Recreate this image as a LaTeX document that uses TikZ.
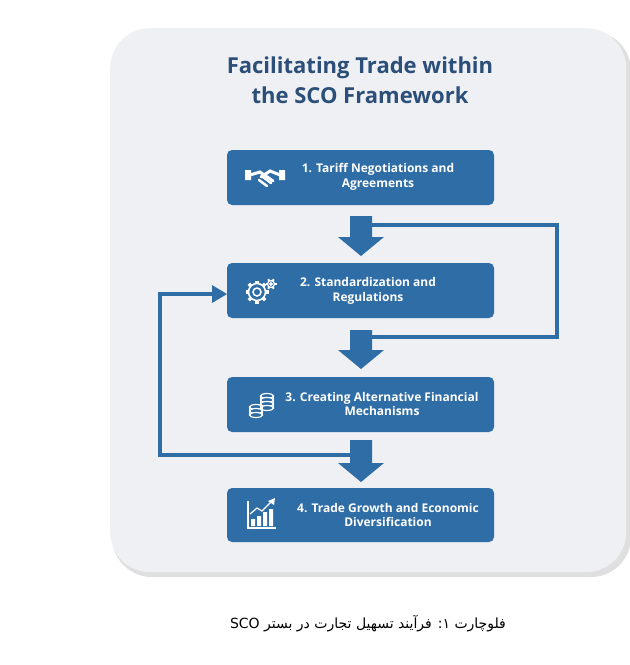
\documentclass[tikz,border=0pt]{standalone}
\usepackage{fontspec}
\setmainfont{Open Sans}
\newfontfamily\arfont[Script=Arabic]{DejaVu Sans}
\usetikzlibrary{calc}
\definecolor{boxc}{HTML}{2F6DA6}
\definecolor{titc}{HTML}{2B4F78}
\definecolor{cardc}{HTML}{EEF0F3}
\begin{document}
\TeXXeTstate=1
\begin{tikzpicture}[x=1pt,y=-1pt,
  stepbox/.style={fill=boxc,rounded corners=5pt},
  steptxt/.style={text=white,font=\bfseries\fontsize{12}{14.5}\selectfont,align=center},
  loopl/.style={draw=boxc,line width=4.5pt},
  ico/.style={draw=white,line width=1.2pt,fill=none}]
\useasboundingbox (0,0) rectangle (630,665);
\fill[white] (0,0) rectangle (630,665);
\fill[gray!25,rounded corners=40pt] (112,31) rectangle (631,577);
\node[draw=none,fill=cardc,rounded corners=40pt,minimum width=516pt,minimum height=544pt,anchor=north west] (card) at (110,28) {};
\node[text=titc,font=\bfseries\fontsize{22}{30}\selectfont,align=center] (title) at (360,80) {Facilitating Trade within\\the SCO Framework};
% boxes
\path[stepbox] (227,150) rectangle (494,205);
\path[stepbox] (227,263) rectangle (494,318);
\path[stepbox] (227,377) rectangle (494,432);
\path[stepbox] (227,488) rectangle (494,542);
\node[steptxt] (t1) at (378,177) {1. Tariff Negotiations and\\Agreements};
\node[steptxt] (t2) at (368,291) {2. Standardization and\\Regulations};
\node[steptxt] (t3) at (382,404) {3. Creating Alternative Financial\\Mechanisms};
\node[steptxt] (t4) at (388,515) {4. Trade Growth and Economic\\Diversification};
% block arrows
\foreach \a/\b in {216/256,330/369,440/482}{
  \fill[boxc] (350,\a) -- (372,\a) -- (372,\b-19) -- (384,\b-19) -- (361,\b) -- (338,\b-19) -- (350,\b-19) -- cycle;}
% loops
\coordinate (r1) at (372,225); \coordinate (r2) at (557,225);
\coordinate (r3) at (557,337); \coordinate (r4) at (372,337);
\draw[loopl] (r1) -- (r2) -- (r3) -- (r4);
\coordinate (l1) at (350,455); \coordinate (l2) at (160,455);
\coordinate (l3) at (160,294); \coordinate (l4) at (214,294);
\draw[loopl] (l1) -- (l2) -- (l3) -- (l4);
\fill[boxc] (227,294) -- (212,285) -- (212,303) -- cycle;
% icons
\begin{scope}[shift={(265,178)},ico]
 \draw[line width=3pt,line cap=round] (-15,-3) -- (-5,-6) -- (8,3) (15,-3) -- (5,-7) -- (-4,-1);
 \draw[line width=2.5pt,line cap=round] (-6,2) -- (2,8) (-2,-1) -- (6,5);
 \fill[white] (-20,-8) rectangle (-14,2) (14,-8) rectangle (20,2);
\end{scope}
\begin{scope}[shift={(257,292)},ico]
 \foreach \k in {0,45,...,315} \draw[line width=3.5pt] (\k:8) -- (\k:11.5);
 \draw[line width=1.5pt] (0,0) circle (8.5); \draw[line width=1.5pt] (0,0) circle (4);
 \begin{scope}[shift={(14,-8)}]
 \foreach \k in {0,60,...,300} \draw[line width=2pt] (\k:3.5) -- (\k:5.5);
 \draw (0,0) circle (3.5) (0,0) circle (1.2);
 \end{scope}
\end{scope}
\begin{scope}[shift={(262,410)},ico]
 \foreach \j in {0,1,2,3} {\draw[fill=boxc] (5,-14+4*\j) ellipse (6.5 and 2.5);}
 \foreach \j in {0,1,2} {\draw[fill=boxc] (-6,-3+4*\j) ellipse (6.5 and 2.5);}
 \draw (-12.5,-3) -- (-12.5,5) (0.5,-3) -- (0.5,5) (-1.5,-14) -- (-1.5,-2) (11.5,-14) -- (11.5,-2);
\end{scope}
\begin{scope}[shift={(262,515)},ico]
 \draw (-14,-14) -- (-14,13) -- (14,13);
 \fill[white] (-11,4) rectangle (-7,11) (-5,1) rectangle (-1,11) (1,-3) rectangle (5,11) (7,-6) rectangle (11,11);
 \draw (-12,-1) -- (-5,-7) -- (0,-4) -- (10,-14);
 \fill[white] (13,-17) -- (12,-10) -- (6,-14) -- cycle;
\end{scope}
% caption
\node[font=\arfont\fontsize{14}{16}\selectfont] (cap) at (368,624) {\beginR فلوچارت ۱: فرآیند تسهیل تجارت در بستر \beginL SCO\endL\endR};
\end{tikzpicture}
\end{document}
